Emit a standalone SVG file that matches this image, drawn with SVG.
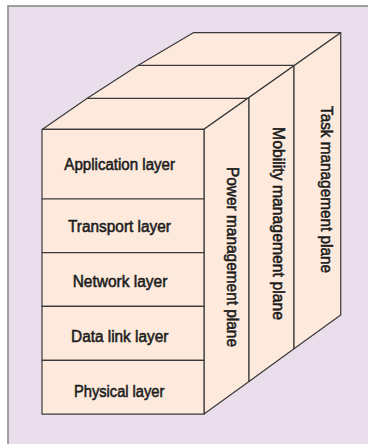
<svg xmlns="http://www.w3.org/2000/svg" width="368" height="444" viewBox="0 0 368 444">
  <style>
    .face { fill: #FDEADC; stroke: #3a3a3a; stroke-width: 1.2; stroke-linejoin: round; }
    .edge { fill: none; stroke: #3a3a3a; stroke-width: 1.2; }
    .lbl { font-family: "Liberation Sans", Arial, sans-serif; font-size: 16px; fill: #1c1c1c; stroke: #1c1c1c; stroke-width: 0.55; text-anchor: middle; }
  </style>

  <!-- panel background -->
  <g id="frame">
    <rect x="0" y="0" width="368" height="444" fill="#ffffff"/>
    <rect x="8" y="6" width="370" height="450" fill="#EADDEC" stroke="#8c8c8c" stroke-width="1.6"/>
  </g>

  <!-- top of the block, split into the three plane strips -->
  <g id="top-face">
    <polygon class="face" points="42.5,129.3 87.3,98.3 138.3,65.3 193.3,32.7 340.7,32.7 204,129.3"/>
    <line class="edge" x1="87.3" y1="98.3" x2="249" y2="98.3"/>
    <line class="edge" x1="138.3" y1="65.3" x2="294" y2="65.3"/>
  </g>

  <!-- side planes -->
  <g id="power-plane">
    <polygon class="face" points="204,129.3 249,97.5 249,381.4 204,414"/>
    <text class="lbl" transform="translate(227,257) rotate(90)" textLength="180" lengthAdjust="spacingAndGlyphs">Power management plane</text>
  </g>
  <g id="mobility-plane">
    <polygon class="face" points="249,97.5 294,65.7 294,348.8 249,381.4"/>
    <text class="lbl" transform="translate(273,223.5) rotate(90)" textLength="193" lengthAdjust="spacingAndGlyphs">Mobility management plane</text>
  </g>
  <g id="task-plane">
    <polygon class="face" points="294,65.7 340.7,32.7 340.7,315 294,348.8"/>
    <text class="lbl" transform="translate(321,189.5) rotate(90)" textLength="167" lengthAdjust="spacingAndGlyphs">Task management plane</text>
  </g>

  <!-- protocol stack, front face -->
  <g id="application-layer">
    <rect class="face" x="42" y="129.3" width="162" height="69.7"/>
    <text class="lbl" x="119.7" y="169.5" textLength="110.7" lengthAdjust="spacingAndGlyphs">Application layer</text>
  </g>
  <g id="transport-layer">
    <rect class="face" x="42" y="199" width="162" height="53.7"/>
    <text class="lbl" x="119.5" y="231.5" textLength="103" lengthAdjust="spacingAndGlyphs">Transport layer</text>
  </g>
  <g id="network-layer">
    <rect class="face" x="42" y="252.7" width="162" height="53.6"/>
    <text class="lbl" x="120" y="287.3" textLength="94.7" lengthAdjust="spacingAndGlyphs">Network layer</text>
  </g>
  <g id="data-link-layer">
    <rect class="face" x="42" y="306.3" width="162" height="54"/>
    <text class="lbl" x="119.7" y="341.7" textLength="97.3" lengthAdjust="spacingAndGlyphs">Data link layer</text>
  </g>
  <g id="physical-layer">
    <rect class="face" x="42" y="360.3" width="162" height="53.9"/>
    <text class="lbl" x="119.2" y="397.3" textLength="90.3" lengthAdjust="spacingAndGlyphs">Physical layer</text>
  </g>

  <!-- no connectors in this figure -->
  <g id="connectors"/>
</svg>
